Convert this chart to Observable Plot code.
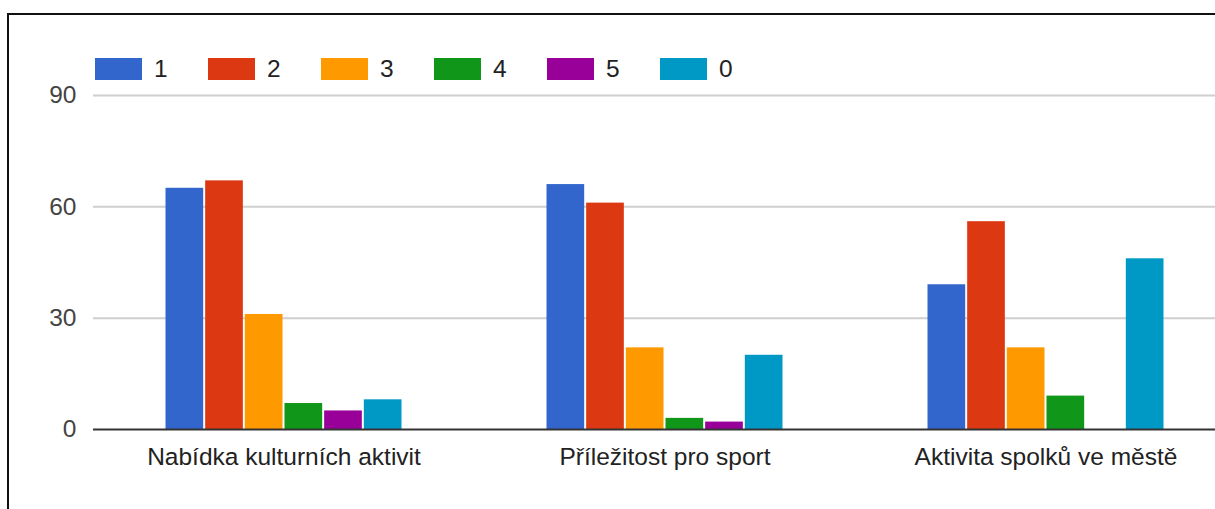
<!DOCTYPE html>
<html>
<head>
<meta charset="utf-8">
<script src="https://cdn.jsdelivr.net/npm/d3@7"></script>
<script src="https://cdn.jsdelivr.net/npm/@observablehq/plot@0.6"></script>
<style>
  html, body { margin: 0; padding: 0; overflow: hidden; background: #fff; width: 1215px; height: 509px; }
  #wrap { position: relative; width: 1215px; height: 509px; overflow: hidden; font-family: "Liberation Sans", Arial, sans-serif; }
  .layer { position: absolute; left: 0; top: 0; }
  .layer svg { max-width: none !important; display: block; background: transparent !important; }
  #frame { position: absolute; left: 7px; top: 13px; width: 1400px; height: 700px; border: 2px solid #111; box-sizing: border-box; pointer-events: none; }
  #legend { position: absolute; left: 95px; top: 58px; height: 22px; display: flex; }
  .item { width: 113px; display: flex; align-items: center; height: 22px; }
  .sw { width: 47px; height: 22px; margin-right: 12px; flex: none; }
  .lab { font-size: 24.5px; color: #222; line-height: 22px; }
</style>
</head>
<body>
<div id="wrap">
  <div id="grid" class="layer"></div>
  <div id="bars" class="layer"></div>
  <div id="base" class="layer"></div>
  <div id="legend"></div>
  <div id="frame"></div>
</div>
<script>
const categories = ["Nabídka kulturních aktivit", "Příležitost pro sport", "Aktivita spolků ve městě"];
const series = ["1", "2", "3", "4", "5", "0"];
const colors = ["#3366cc", "#dc3912", "#ff9900", "#109618", "#990099", "#0099c6"];
const kulturniAktivity = [65, 67, 31, 7, 5, 8];
const sport = [66, 61, 22, 3, 2, 20];
const spolky = [39, 56, 22, 9, 0, 46];
const yTicks = [0, 30, 60, 90];

const valuesByCategory = [kulturniAktivity, sport, spolky];
const data = categories.flatMap((c, i) => series.map((s, j) => ({category: c, series: s, value: valuesByCategory[i][j]})));

const common = {
  width: 1245,
  height: 509,
  marginLeft: 93,
  marginRight: 9,
  marginTop: 95,
  marginBottom: 80,
  style: {fontFamily: "'Liberation Sans', Arial, sans-serif", background: "transparent"},
  y: {domain: [0, 90], axis: null}
};

// background: gridlines and y tick labels
const grid = Plot.plot({
  ...common,
  marks: [
    Plot.ruleY(yTicks.filter(d => d > 0), {stroke: "#cfcfcf", strokeWidth: 2}),
    Plot.text(yTicks, {y: d => d, frameAnchor: "left", dx: -17, textAnchor: "end", fontSize: 24.5, fill: "#444"})
  ]
});
document.getElementById("grid").appendChild(grid);

// bars, grouped by category
const bars = Plot.plot({
  ...common,
  fx: {domain: categories, paddingInner: 0.3806, paddingOuter: 0.1903, round: false, label: null},
  x: {domain: series, paddingInner: 0.05, paddingOuter: 0, round: false, axis: null},
  color: {domain: series, range: colors},
  marks: [
    Plot.barY(data, {fx: "category", x: "series", y: "value", fill: "series"}),
    Plot.axisFx({anchor: "bottom", tickSize: 0, tickPadding: 18, fontSize: 24.5, fill: "#222", label: null})
  ]
});
document.getElementById("bars").appendChild(bars);

// baseline on top
const base = Plot.plot({
  ...common,
  marks: [
    Plot.ruleY([0], {stroke: "#333", strokeWidth: 2})
  ]
});
document.getElementById("base").appendChild(base);

const legend = document.getElementById("legend");
series.forEach((s, i) => {
  const item = document.createElement("div");
  item.className = "item";
  const sw = document.createElement("div");
  sw.className = "sw";
  sw.style.background = colors[i];
  const lab = document.createElement("span");
  lab.className = "lab";
  lab.textContent = s;
  item.appendChild(sw);
  item.appendChild(lab);
  legend.appendChild(item);
});
</script>
</body>
</html>
